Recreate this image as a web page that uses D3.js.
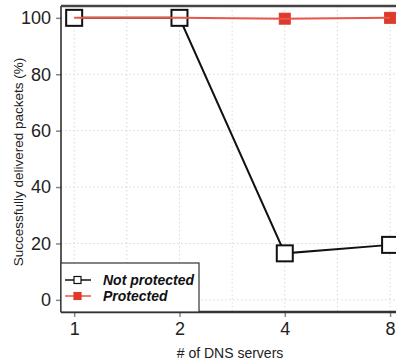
<!DOCTYPE html>
<html>
<head>
<meta charset="utf-8">
<script src="https://cdn.jsdelivr.net/npm/d3@7"></script>
<style>
  body { margin: 0; background: #fff; }
  svg { font-family: "Liberation Sans", Arial, sans-serif; }
</style>
</head>
<body>
<svg id="chart" width="396" height="363"></svg>
<script>
const servers = ["1", "2", "4", "8"];
const notProtected = [100, 100, 16.5, 19.5];
const protectedVals = [100, 100, 99.7, 100];
const yTicks = [0, 20, 40, 60, 80, 100];
const seriesNames = ["Not protected", "Protected"];

const svg = d3.select("#chart");
const margin = { top: 6, right: -10, bottom: 51, left: 61 };
const width = 396 - margin.left - margin.right;
const height = 363 - margin.top - margin.bottom;

const g = svg.append("g")
    .attr("transform", `translate(${margin.left},${margin.top})`);

//index scale, points sit at 1..4 over a range padded on both sides
const x = d3.scaleLinear()
    .domain([0.875, 4.151])
    .range([0, width]);

const y = d3.scaleLinear()
    .domain([-4.3, 104.2])
    .range([height, 0]);

//dotted grid, with extra vertical lines between categories
const xGrid = d3.range(1, 4.01, 0.5);
g.selectAll("line.vgrid")
    .data(xGrid)
    .enter().append("line")
    .attr("x1", d => x(d)).attr("x2", d => x(d))
    .attr("y1", 0).attr("y2", height)
    .attr("stroke", "#d8d8d8")
    .attr("stroke-dasharray", "1.5,2.5");

g.selectAll("line.hgrid")
    .data(yTicks)
    .enter().append("line")
    .attr("x1", 0).attr("x2", width)
    .attr("y1", d => y(d)).attr("y2", d => y(d))
    .attr("stroke", "#d8d8d8")
    .attr("stroke-dasharray", "1.5,2.5");

//axes
const yAxis = g.append("g")
    .call(d3.axisLeft(y).tickValues(yTicks).tickSize(5).tickPadding(5));
yAxis.select(".domain").remove();
yAxis.selectAll(".tick line").attr("stroke", "#888").attr("stroke-width", 1.5);
yAxis.selectAll(".tick text").style("font-size", "18px").attr("fill", "#222");

const xAxis = g.append("g")
    .attr("transform", `translate(0,${height})`)
    .call(d3.axisBottom(x).tickValues([1, 2, 3, 4]).tickFormat((d, i) => servers[i]).tickSize(5).tickPadding(5));
xAxis.select(".domain").remove();
xAxis.selectAll(".tick line").attr("stroke", "#888").attr("stroke-width", 1.5);
xAxis.selectAll(".tick text").style("font-size", "18px").attr("fill", "#222");

//frame
g.append("line").attr("x1", 0).attr("x2", 0).attr("y1", 0).attr("y2", height)
    .attr("stroke", "#222").attr("stroke-width", 1.5);
g.append("line").attr("x1", 0).attr("x2", width).attr("y1", height).attr("y2", height)
    .attr("stroke", "#333").attr("stroke-width", 2.5);
g.append("line").attr("x1", 0).attr("x2", width).attr("y1", 0).attr("y2", 0)
    .attr("stroke", "#444").attr("stroke-width", 2.5);

const line = d3.line()
    .x((d, i) => x(i + 1))
    .y(d => y(d));

//protected markers go underneath, the open squares hide the overlapping ones
g.selectAll("rect.p")
    .data(protectedVals)
    .enter().append("rect")
    .attr("x", (d, i) => x(i + 1) - 5.5)
    .attr("y", d => y(d) - 5.5)
    .attr("width", 11).attr("height", 11)
    .attr("fill", "#de3a2c")
    .attr("stroke", "#de3a2c")
    .attr("stroke-width", 1);

//not protected series
g.append("path")
    .datum(notProtected)
    .attr("fill", "none")
    .attr("stroke", "#111")
    .attr("stroke-width", 2)
    .attr("d", line);

g.selectAll("rect.np")
    .data(notProtected)
    .enter().append("rect")
    .attr("x", (d, i) => x(i + 1) - 8)
    .attr("y", d => y(d) - 8)
    .attr("width", 16).attr("height", 16)
    .attr("fill", "#fff")
    .attr("stroke", "#111")
    .attr("stroke-width", 2);

//protected line on top
g.append("path")
    .datum(protectedVals)
    .attr("fill", "none")
    .attr("stroke", "#e8574a")
    .attr("stroke-width", 2)
    .attr("d", line);

//legend
const legend = g.append("g")
    .attr("transform", `translate(0,${height - 49})`);

legend.append("rect")
    .attr("width", 138).attr("height", 49)
    .attr("fill", "#fff")
    .attr("stroke", "#333")
    .attr("stroke-width", 1.2);

const colors = ["#111", "#e8574a"];
const items = legend.selectAll("g.item")
    .data(seriesNames)
    .enter().append("g")
    .attr("transform", (d, i) => `translate(0,${17 + i * 16})`);

items.append("line")
    .attr("x1", 4).attr("x2", 30)
    .attr("stroke", (d, i) => colors[i])
    .attr("stroke-width", 1.5);

items.append("rect")
    .attr("x", 13).attr("y", -3.5)
    .attr("width", 7).attr("height", 7)
    .attr("fill", (d, i) => i === 0 ? "#fff" : "#de3a2c")
    .attr("stroke", (d, i) => i === 0 ? "#111" : "#de3a2c")
    .attr("stroke-width", 1.2);

items.append("text")
    .attr("x", 42).attr("y", 5)
    .style("font-size", "14px")
    .style("font-weight", "bold")
    .style("font-style", "italic")
    .attr("fill", "#111")
    .text(d => d);

//axis titles
svg.append("text")
    .attr("x", 230).attr("y", 358)
    .attr("text-anchor", "middle")
    .style("font-size", "14px")
    .attr("fill", "#222")
    .text("# of DNS servers");

svg.append("text")
    .attr("transform", "rotate(-90)")
    .attr("x", -162).attr("y", 23)
    .attr("text-anchor", "middle")
    .style("font-size", "13.5px")
    .attr("fill", "#222")
    .text("Successfully delivered packets (%)");
</script>
</body>
</html>
